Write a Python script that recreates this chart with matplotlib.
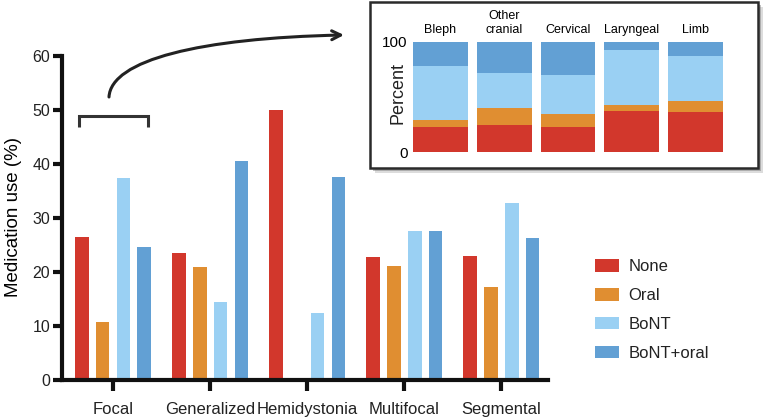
import numpy as np
import matplotlib
matplotlib.use('Agg')
import matplotlib.pyplot as plt
from matplotlib.patches import Rectangle, FancyArrowPatch, Patch
from matplotlib.path import Path
from matplotlib.lines import Line2D

plt.rcParams['font.family'] = ['Liberation Sans', 'DejaVu Sans']
plt.rcParams['text.color'] = '#222222'

# main chart data (percent)
groups = ['Focal', 'Generalized', 'Hemidystonia', 'Multifocal', 'Segmental']
series = ['None', 'Oral', 'BoNT', 'BoNT+oral']
none_vals = [26.5, 23.6, 50.0, 22.8, 23.0]
oral_vals = [10.7, 20.9, 0.0, 21.1, 17.3]
bont_vals = [37.4, 14.4, 12.4, 27.6, 32.7]
bont_oral_vals = [24.7, 40.6, 37.6, 27.6, 26.3]

# inset data: focal subtypes (stacked percent)
sub_groups = ['Bleph', 'Other\ncranial', 'Cervical', 'Laryngeal', 'Limb']
sub_none = [23.0, 25.0, 23.0, 37.5, 36.0]
sub_oral = [6.0, 15.0, 12.0, 5.0, 10.5]
sub_bont = [49.0, 32.0, 35.0, 50.0, 40.5]
sub_bont_oral = [22.0, 28.0, 30.0, 7.5, 13.0]

colors = ['#d2372c', '#e08e31', '#9ad0f3', '#62a0d4']

W, H = 766, 420
fig = plt.figure(figsize=(W / 100, H / 100), dpi=100)

# ---- main axes
ax = fig.add_axes([62 / W, 1 - 380 / H, 486 / W, 324 / H])
ax.set_facecolor('none')
x = np.arange(len(groups))
step = 0.214
for k, vals in enumerate([none_vals, oral_vals, bont_vals, bont_oral_vals]):
    ax.bar(x + (k - 1.5) * step, vals, width=0.14, color=colors[k],
           linewidth=0, label=series[k])

ax.set_xlim(-0.526, 4.48)
ax.set_ylim(0, 60)
ax.set_yticks(np.arange(0, 61, 10))
ax.set_xticks(x)
ax.set_xticklabels(groups, fontsize=12)
ax.tick_params(axis='y', labelsize=11.5, width=3, length=6.5, pad=2, colors='#111111', labelcolor='#222222')
ax.tick_params(axis='x', width=3, length=8, pad=8, colors='#111111', labelcolor='#222222')
for s in ['top', 'right']:
    ax.spines[s].set_visible(False)
for s in ['left', 'bottom']:
    ax.spines[s].set_linewidth(3)
    ax.spines[s].set_color('#111111')
ax.set_ylabel('Medication use (%)', fontsize=13.5)
ax.yaxis.set_label_coords(-0.083, 0.503)

handles = [Patch(facecolor=c, edgecolor='none') for c in colors]
fig.legend(handles, series, loc='upper left', bbox_to_anchor=(595 / W, 1 - 259 / H),
           frameon=False, fontsize=12, handlelength=1.45, handleheight=0.8,
           handletextpad=0.55, labelspacing=0.82, borderpad=0, borderaxespad=0)

# ---- inset box with shadow
bx0, by0, bw, bh = 370, 2, 388, 166
for off, a in [(5, 0.25), (3, 0.45)]:
    fig.add_artist(Rectangle(((bx0 + off) / W, 1 - (by0 + bh + off) / H), bw / W, bh / H,
                             transform=fig.transFigure, facecolor='#777777', alpha=a,
                             edgecolor='none', zorder=1))
fig.add_artist(Rectangle((bx0 / W, 1 - (by0 + bh) / H), bw / W, bh / H,
                         transform=fig.transFigure, facecolor='white',
                         edgecolor='#2a2a2a', linewidth=1.8, zorder=1.5))

ax2 = fig.add_axes([411.8 / W, 1 - 152.3 / H, 312.4 / W, 110.6 / H], zorder=2)
ax2.set_facecolor('none')
xs = np.arange(len(sub_groups))
bottom = np.zeros(len(sub_groups))
for k, vals in enumerate([sub_none, sub_oral, sub_bont, sub_bont_oral]):
    ax2.bar(xs, vals, bottom=bottom, width=0.86, color=colors[k], linewidth=0)
    bottom = bottom + np.array(vals)
ax2.set_xlim(-0.45, 4.45)
ax2.set_ylim(0, 100)
ax2.set_yticks([0, 100])
ax2.tick_params(axis='y', length=0, labelsize=11, pad=3)
ax2.xaxis.tick_top()
ax2.set_xticks(xs)
ax2.set_xticklabels(sub_groups, fontsize=9, linespacing=1.25)
ax2.tick_params(axis='x', length=0, pad=4)
for s in ax2.spines.values():
    s.set_visible(False)
ax2.text(-0.045, 0.54, 'Percent', rotation=90, ha='center', va='center',
         fontsize=13, transform=ax2.transAxes)

# ---- bracket and arrow
def fc(px, py):
    return (px / W, 1 - py / H)

bracket = [fc(79, 127), fc(79, 116), fc(148, 116), fc(148, 127)]
fig.add_artist(Line2D([p[0] for p in bracket], [p[1] for p in bracket],
                      transform=fig.transFigure, color='#333333', linewidth=2.2,
                      solid_joinstyle='miter', solid_capstyle='butt'))

verts = [fc(109, 97), fc(111, 60), fc(200, 38), fc(344, 35)]
path = Path(verts, [Path.MOVETO, Path.CURVE4, Path.CURVE4, Path.CURVE4])
fig.add_artist(FancyArrowPatch(path=path, arrowstyle='->', mutation_scale=16,
                               color='#222222', linewidth=2.2,
                               transform=fig.transFigure))

fig.savefig('out.png', dpi=100)
